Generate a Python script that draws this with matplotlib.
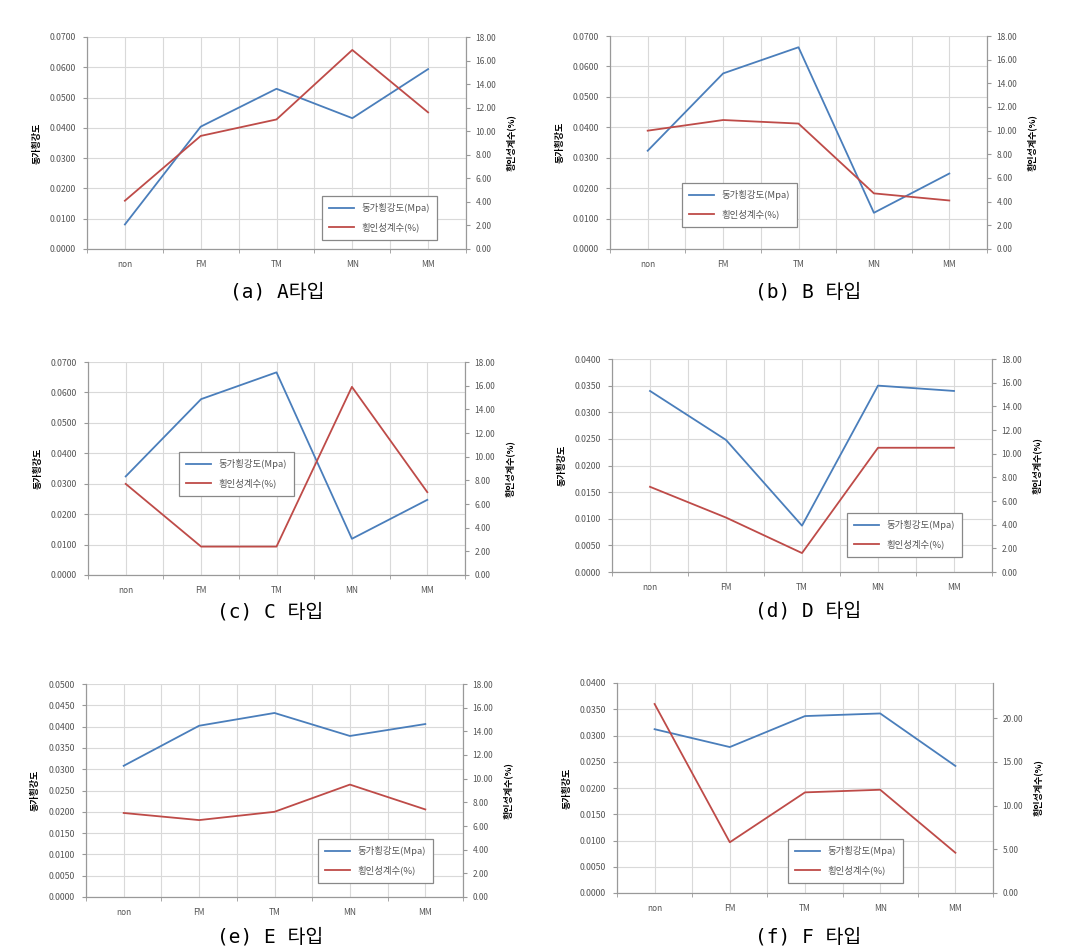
import numpy as np
import matplotlib.pyplot as plt
from matplotlib.ticker import FormatStrFormatter

plt.rcParams['font.family'] = ['Noto Sans CJK KR', 'DejaVu Sans']

W, H = 1081, 951

categories = ['non', 'FM', 'TM', 'MN', 'MM']
series_names = ['동가횡강도(Mpa)', '횡인성계수(%)']
left_label = '동가횡강도'
right_label = '횡인성계수(%)'

# equivalent flexural strength (left axis) / toughness index (right axis)
strength_a = [0.0081, 0.0404, 0.0529, 0.0432, 0.0594]
toughness_a = [4.1, 9.6, 11.0, 16.9, 11.6]
strength_b = [0.0323, 0.0577, 0.0663, 0.0119, 0.0248]
toughness_b = [10.0, 10.9, 10.6, 4.7, 4.1]
strength_c = [0.0324, 0.0578, 0.0666, 0.0119, 0.0247]
toughness_c = [7.7, 2.4, 2.4, 15.9, 7.0]
strength_d = [0.0340, 0.0248, 0.0087, 0.0350, 0.0340]
toughness_d = [7.2, 4.6, 1.6, 10.5, 10.5]
strength_e = [0.0308, 0.0402, 0.0432, 0.0378, 0.0406]
toughness_e = [7.1, 6.5, 7.2, 9.5, 7.4]
strength_f = [0.0312, 0.0278, 0.0337, 0.0342, 0.0242]
toughness_f = [21.6, 5.8, 11.5, 11.8, 4.6]

captions = ['(a) A타입', '(b) B 타입', '(c) C 타입', '(d) D 타입', '(e) E 타입', '(f) F 타입']

BLUE = '#4a7ebb'
RED = '#be4b48'
GRID = '#d9d9d9'
TXT = '#555555'

# (strength, toughness, left max, left step, right max, right step,
#  plot rect px (l, t, r, b), legend top-left px, caption center px)
panels = [
    (strength_a, toughness_a, 0.07, 0.01, 18, 2, (87, 37, 466, 249), (322, 196), (277, 292)),
    (strength_b, toughness_b, 0.07, 0.01, 18, 2, (610, 36, 987, 249), (682, 183), (808, 292)),
    (strength_c, toughness_c, 0.07, 0.01, 18, 2, (88, 362, 465, 575), (179, 452), (270, 612)),
    (strength_d, toughness_d, 0.04, 0.005, 18, 2, (612, 359, 992, 572), (847, 513), (808, 611)),
    (strength_e, toughness_e, 0.05, 0.005, 18, 2, (86, 684, 463, 897), (318, 839), (270, 937)),
    (strength_f, toughness_f, 0.04, 0.005, 24, 5, (617, 683, 993, 893), (788, 839), (808, 937)),
]

fig = plt.figure(figsize=(W / 100, H / 100), dpi=100)
x = np.arange(len(categories))

for i, (s, t, lmax, lstep, rmax, rstep, rect, legpos, cappos) in enumerate(panels):
    l, tp, r, b = rect
    ax = fig.add_axes([l / W, 1 - b / H, (r - l) / W, (b - tp) / H])
    ax2 = ax.twinx()

    l1, = ax.plot(x, s, color=BLUE, lw=1.3, label=series_names[0])
    l2, = ax2.plot(x, t, color=RED, lw=1.3, label=series_names[1])

    ax.set_xlim(-0.5, len(categories) - 0.5)
    ax.set_ylim(0, lmax)
    ax.set_yticks(np.arange(0, lmax + lstep / 2, lstep))
    ax.yaxis.set_major_formatter(FormatStrFormatter('%.4f'))
    ax2.set_ylim(0, rmax)
    ax2.set_yticks(np.arange(0, rmax + 0.01, rstep))
    ax2.yaxis.set_major_formatter(FormatStrFormatter('%.2f'))

    ax.set_xticks(x)
    ax.set_xticklabels(categories)
    ax.set_xticks(np.arange(-0.5, len(categories), 1.0), minor=True)
    ax.tick_params(axis='x', which='major', length=0, labelsize=6, colors=TXT, pad=8)
    ax.tick_params(axis='x', which='minor', length=3, color='#999999')
    ax.tick_params(axis='y', length=3, color='#999999', labelsize=6.3, labelcolor=TXT, pad=5)
    ax2.tick_params(axis='y', length=3, color='#999999', labelsize=6, labelcolor=TXT, pad=4)

    ax.grid(True, axis='y', color=GRID, lw=0.8)
    ax.grid(True, axis='x', which='both', color=GRID, lw=0.8)
    ax.set_axisbelow(True)

    for a in (ax, ax2):
        a.spines['top'].set_visible(False)
        for sp in ('left', 'right', 'bottom'):
            a.spines[sp].set_color('#999999')
            a.spines[sp].set_linewidth(0.8)

    ax.set_ylabel(left_label, fontsize=6.5, fontweight='bold', labelpad=6)
    ax2.set_ylabel(right_label, fontsize=6.5, fontweight='bold', rotation=90, labelpad=7)

    leg = ax2.legend([l1, l2], series_names, loc='upper left',
                     bbox_to_anchor=(legpos[0] / W, 1 - legpos[1] / H),
                     bbox_transform=fig.transFigure, fontsize=6.8, handlelength=2.6,
                     borderpad=0.75, labelspacing=1.0, fancybox=False, framealpha=1,
                     edgecolor='#888888', borderaxespad=0)
    for txt in leg.get_texts():
        txt.set_color(TXT)
    leg.get_frame().set_linewidth(0.9)

    fig.text(cappos[0] / W, 1 - cappos[1] / H, captions[i], ha='center', va='center',
             fontsize=14, family=['DejaVu Sans Mono', 'Noto Sans CJK KR'])

fig.savefig('out.png', dpi=100)
